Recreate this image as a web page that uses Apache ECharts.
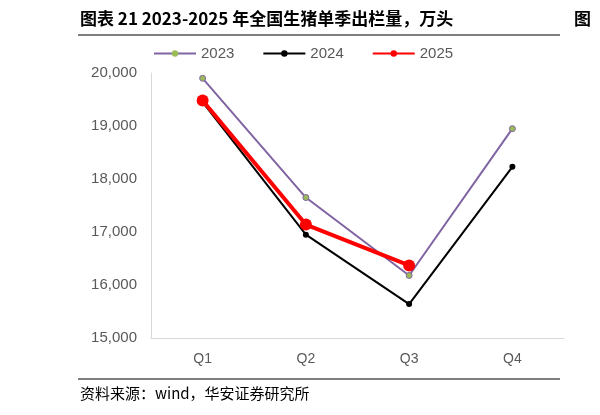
<!DOCTYPE html>
<html>
<head>
<meta charset="utf-8">
<script src="https://cdn.jsdelivr.net/npm/echarts@6/dist/echarts.min.js"></script>
<style>
  body { margin: 0; background: #fff; }
  #main { width: 600px; height: 415px; }
</style>
</head>
<body>
<div id="main"></div>
<script>
var quarters = ['Q1', 'Q2', 'Q3', 'Q4'];
var s2023 = [19900, 17650, 16180, 18950];
var s2024 = [19450, 16950, 15640, 18230];
var s2025 = [19480, 17140, 16370, null];
var yTicks = { min: 15000, max: 20000, interval: 1000 };

var myChart = echarts.init(document.getElementById('main'));
var option = {
    animation: false,
    graphic: [
        { type: 'text', left: 80, top: 10, style: { text: '图表 21 2023-2025 年全国生猪单季出栏量，万头', font: 'bold 17px "Noto Sans CJK SC"', fill: '#000' } },
        { type: 'text', left: 574, top: 10, style: { text: '图', font: 'bold 17px "Noto Sans CJK SC"', fill: '#000' } },
        { type: 'line', shape: { x1: 78, y1: 35, x2: 560, y2: 35 }, style: { stroke: '#000', lineWidth: 1 } },
        { type: 'line', shape: { x1: 78, y1: 379, x2: 560, y2: 379 }, style: { stroke: '#000', lineWidth: 1 } },
        { type: 'text', left: 80, top: 386, style: { text: '资料来源：wind，华安证券研究所', font: '15px "Noto Sans CJK SC"', fill: '#000' } }
    ],
    legend: {
        top: 41, left: 148, itemGap: 28, itemWidth: 42, itemHeight: 8,
        textStyle: { fontSize: 15, color: '#595959', fontFamily: 'Liberation Sans' },
        data: [
            { name: '2023', itemStyle: { borderWidth: 0 } },
            { name: '2024' },
            { name: '2025' }
        ]
    },
    grid: { left: 151, right: 36, top: 73, bottom: 77 },
    xAxis: {
        type: 'category', data: quarters,
        axisLine: { lineStyle: { color: '#d9d9d9' } },
        axisTick: { show: false },
        axisLabel: { color: '#595959', fontSize: 14, margin: 14, fontFamily: 'Liberation Sans' }
    },
    yAxis: {
        type: 'value', min: yTicks.min, max: yTicks.max, interval: yTicks.interval,
        axisLine: { show: true, lineStyle: { color: '#d9d9d9' } },
        splitLine: { show: false },
        axisLabel: { color: '#595959', fontSize: 15, margin: 14, fontFamily: 'Liberation Sans',
            formatter: function (v) { return v.toLocaleString('en-US'); } }
    },
    series: [
        { name: '2023', type: 'line', data: s2023, symbol: 'circle', symbolSize: 6,
          lineStyle: { color: '#8064a2', width: 2 },
          itemStyle: { color: '#9bbb59', borderColor: '#8064a2', borderWidth: 1 } },
        { name: '2024', type: 'line', data: s2024, symbol: 'circle', symbolSize: 6,
          lineStyle: { color: '#000', width: 2 }, itemStyle: { color: '#000' } },
        { name: '2025', type: 'line', data: s2025, symbol: 'circle', symbolSize: 12,
          lineStyle: { color: '#ff0000', width: 4 }, itemStyle: { color: '#ff0000' } }
    ]
};
myChart.setOption(option);
</script>
</body>
</html>
